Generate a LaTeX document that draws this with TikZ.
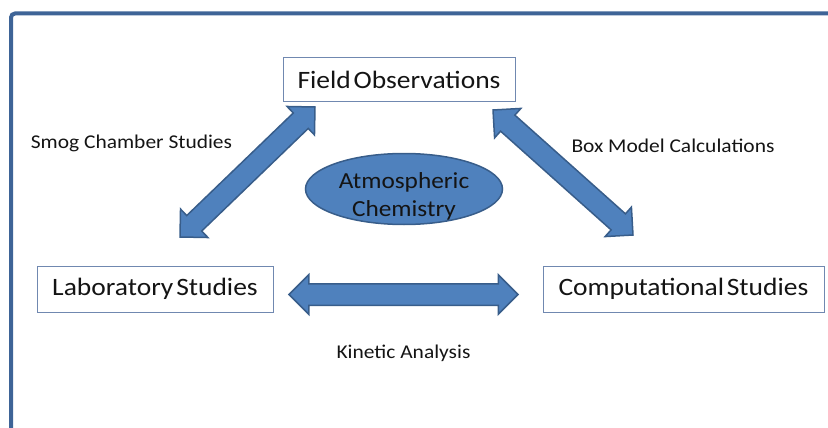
\documentclass[tikz,border=0pt]{standalone}
\usepackage{fontspec}
\setmainfont{Carlito}[FakeStretch=1.1]
\newfontfamily\boxfont{Carlito}[FakeStretch=1.1, WordSpace=0.45]
\usepackage{tikz}
\usetikzlibrary{calc, shapes.geometric, shapes.arrows}

\definecolor{framecol}{RGB}{62,100,151}
\definecolor{boxcol}{RGB}{112,136,176}
\definecolor{fillcol}{RGB}{79,129,189}
\definecolor{edgecol}{RGB}{56,93,138}
\definecolor{inkcol}{RGB}{20,20,20}

\tikzset{
  studybox/.style={draw=boxcol, line width=1pt, fill=white, inner sep=0pt,
    text=inkcol, font=\boxfont\fontsize{25}{30}\selectfont},
  chembubble/.style={ellipse, draw=edgecol, line width=1.5pt, fill=fillcol,
    inner sep=0pt, minimum width=197pt, minimum height=71pt},
  bubbletext/.style={align=center, text=inkcol, font=\fontsize{23}{28}\selectfont},
  fatarrow/.style={double arrow, draw=edgecol, line width=1.5pt, fill=fillcol,
    inner xsep=0pt, inner ysep=10pt, double arrow head extend=9pt,
    double arrow tip angle=90},
  sidelabel/.style={text=inkcol, font=\fontsize{19.5}{23}\selectfont}
}

\begin{document}
\begin{tikzpicture}[x=1pt, y=-1pt]
\useasboundingbox (0,0) rectangle (828,428);
% outer frame
\draw[framecol, line width=4pt, rounded corners=4pt] (11,440) -- (11,13.5) -- (840,13.5);

\node[studybox, minimum width=232pt, minimum height=44pt] (field) at (399,80) {Field Observations};
\node[studybox, minimum width=236pt, minimum height=46pt] (lab) at (155,289) {Laboratory Studies};
\node[studybox, minimum width=281pt, minimum height=46pt] (comp) at (683.5,289) {Computational Studies};
\node[chembubble] (chem) at (404,189) {};
\node[bubbletext] (chemtext) at (404,196) {Atmospheric\\Chemistry};

% arrow ends
\coordinate (smogA) at (180,237);
\coordinate (smogB) at (315,107);
\coordinate (boxA) at (493,110);
\coordinate (boxB) at (633,235);
\coordinate (kinA) at (289,294.5);
\coordinate (kinB) at (518,294.5);

\foreach \a/\b in {smogA/smogB, boxA/boxB, kinA/kinB}
  \path let \p1=($(\b)-(\a)$), \n1={atan2(\y1,\x1)}, \n2={veclen(\x1,\y1)} in
    node[fatarrow, rotate=\n1, minimum height=\n2] at ($(\a)!0.5!(\b)$) {};

\node[sidelabel] (smog) at (131.5,143) {Smog Chamber Studies};
\node[sidelabel] (boxmodel) at (673,146) {Box Model Calculations};
\node[sidelabel] (kinetic) at (403.5,353) {Kinetic Analysis};
\end{tikzpicture}
\end{document}
